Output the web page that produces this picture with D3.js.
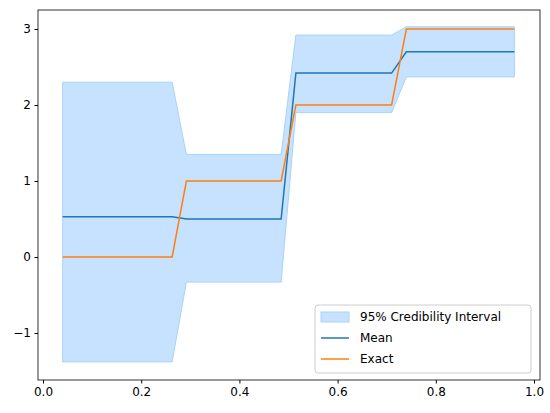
<!DOCTYPE html>
<html><head><meta charset="utf-8">
<script src="https://cdn.jsdelivr.net/npm/d3@7"></script>
<style>body{margin:0;background:#fff}text{font-family:"DejaVu Sans",sans-serif}</style>
</head><body><svg id="c" width="550" height="413"></svg>
<script>
const xs = [0.04,0.263,0.292,0.485,0.515,0.71,0.74,0.96];
const meanVals = [0.53,0.53,0.50,0.50,2.42,2.42,2.70,2.70];
const exactVals = [0,0,1,1,2,2,3,3];
const upperVals = [2.30,2.30,1.35,1.35,2.92,2.92,3.03,3.03];
const lowerVals = [-1.38,-1.38,-0.33,-0.33,1.90,1.90,2.37,2.37];
const xTicks = [0,0.2,0.4,0.6,0.8,1.0];
const yTicks = [-1,0,1,2,3];

const svg = d3.select("#c");
const L=38,R=540,T=10,B=380;
const x = d3.scaleLinear().domain([-0.0102,1.0122]).range([L,R]);
const y = d3.scaleLinear().domain([-1.618,3.25]).range([B,T]);
const idx = d3.range(xs.length);

svg.append("path").datum(idx)
  .attr("d", d3.area().x(i=>x(xs[i])).y0(i=>y(lowerVals[i])).y1(i=>y(upperVals[i])))
  .attr("fill","#c6e2ff").attr("stroke","#a9d2fb").attr("stroke-width",1);
svg.append("path").datum(idx)
  .attr("d", d3.line().x(i=>x(xs[i])).y(i=>y(meanVals[i])))
  .attr("fill","none").attr("stroke","#1f77b4").attr("stroke-width",1.5);
svg.append("path").datum(idx)
  .attr("d", d3.line().x(i=>x(xs[i])).y(i=>y(exactVals[i])))
  .attr("fill","none").attr("stroke","#ff7f0e").attr("stroke-width",1.5);

const xa = svg.append("g").attr("transform",`translate(0,${B})`)
  .call(d3.axisBottom(x).tickValues(xTicks).tickFormat(d3.format(".1f")).tickSize(3.5).tickPadding(3.5));
const ya = svg.append("g").attr("transform",`translate(${L},0)`)
  .call(d3.axisLeft(y).tickValues(yTicks).tickFormat(d=>d<0?"−"+Math.abs(d):d).tickSize(3.5).tickPadding(3.5));
[xa,ya].forEach(a=>{a.select(".domain").remove();a.selectAll("text").attr("font-size",12).attr("fill","#000");a.selectAll("line").attr("stroke","#000");});
svg.append("rect").attr("x",L).attr("y",T).attr("width",R-L).attr("height",B-T)
  .attr("fill","none").attr("stroke","#000").attr("stroke-width",0.8);

const lg = svg.append("g");
lg.append("rect").attr("x",315).attr("y",305).attr("width",216).attr("height",68).attr("rx",3)
  .attr("fill","#fff").attr("fill-opacity",0.8).attr("stroke","#ccc");
lg.append("rect").attr("x",321).attr("y",312).attr("width",28).attr("height",10)
  .attr("fill","#c6e2ff").attr("stroke","#a9d2fb");
lg.append("line").attr("x1",321).attr("x2",349).attr("y1",338).attr("y2",338).attr("stroke","#1f77b4").attr("stroke-width",1.5);
lg.append("line").attr("x1",321).attr("x2",349).attr("y1",359).attr("y2",359).attr("stroke","#ff7f0e").attr("stroke-width",1.5);
[["95% Credibility Interval",321],["Mean",342],["Exact",363]].forEach(([t,yy])=>
  lg.append("text").attr("x",360).attr("y",yy).attr("font-size",12).text(t));
</script></body></html>
